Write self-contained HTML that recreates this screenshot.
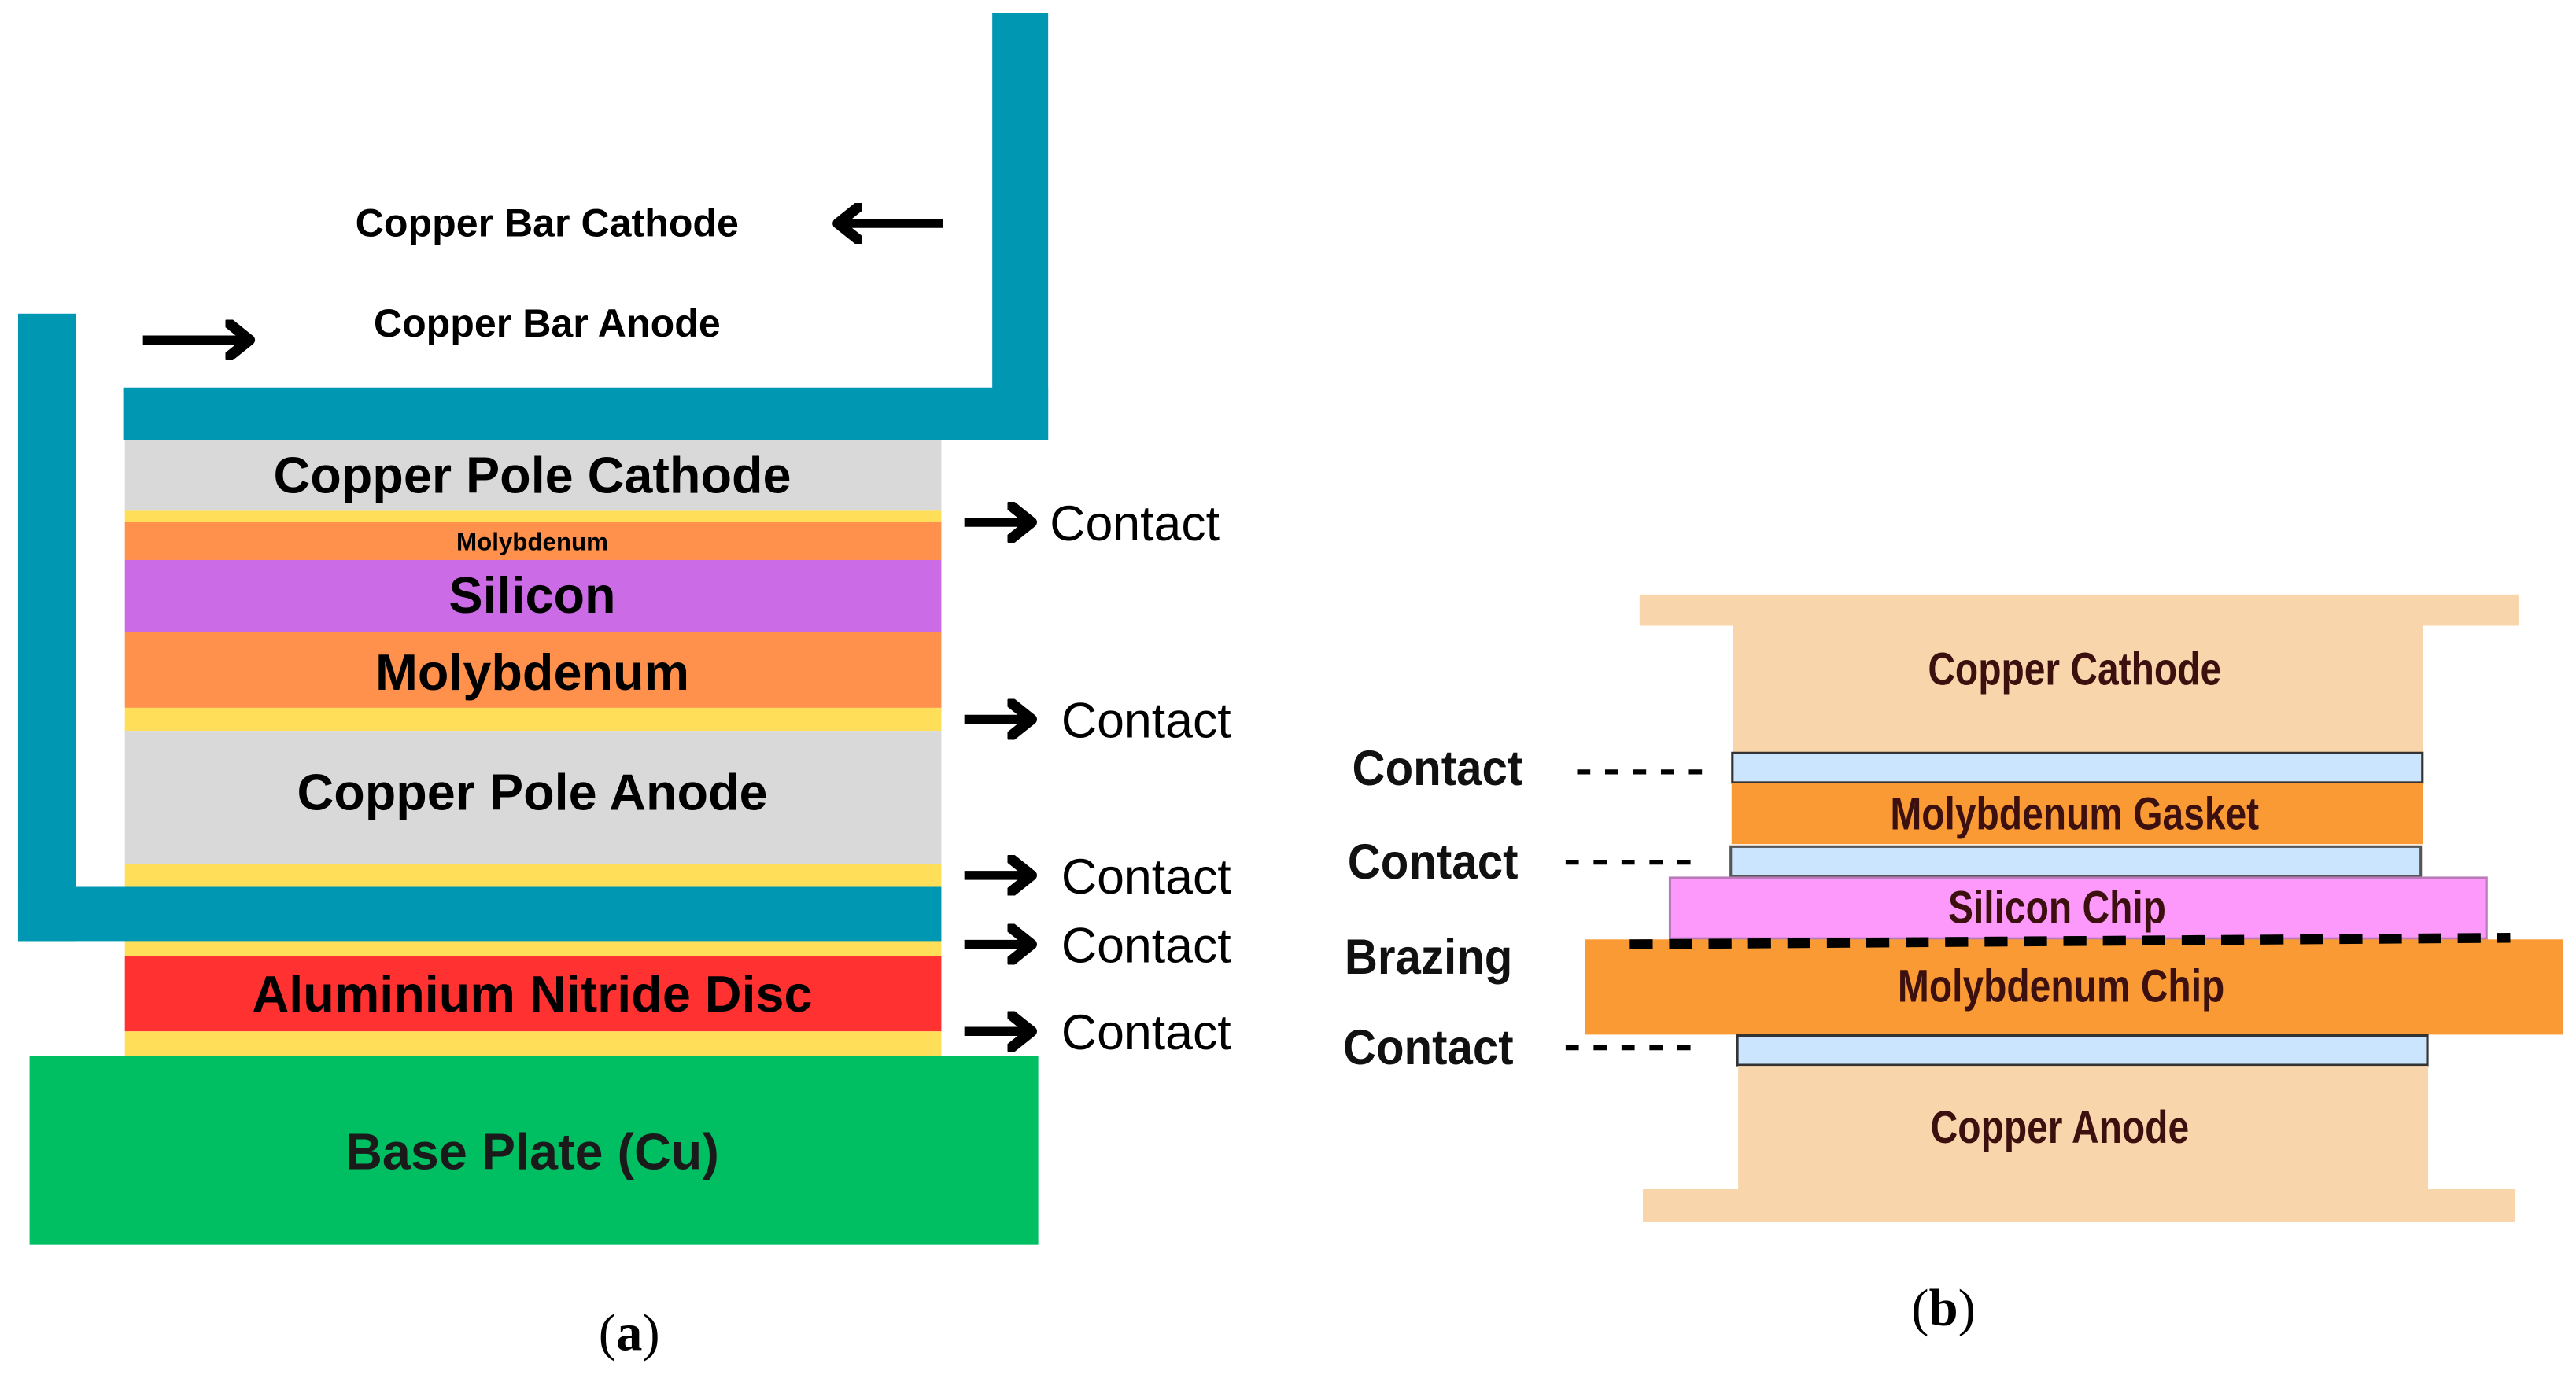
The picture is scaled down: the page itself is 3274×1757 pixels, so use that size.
<!DOCTYPE html>
<html><head><meta charset="utf-8"><style>
html,body{margin:0;padding:0;background:#fff}
svg{display:block}
.b{font-family:"Liberation Sans",sans-serif;font-weight:bold}
</style></head><body>
<svg width="3274" height="1757" viewBox="0 0 1568 841.5" preserveAspectRatio="none" xmlns="http://www.w3.org/2000/svg">
<defs>
<marker id="ar" viewBox="0 0 10 10" refX="6" refY="5" markerWidth="4.5" markerHeight="4.5" orient="auto">
<path d="M1,1 L6,5 L1,9" fill="none" stroke="#000" stroke-width="2.6" stroke-linecap="round" stroke-linejoin="round"/>
</marker>
</defs>
<rect x="76" y="268" width="497" height="43" fill="#d9d9d9"/>
<rect x="76" y="311" width="497" height="7" fill="#ffde59"/>
<rect x="76" y="318" width="497" height="23" fill="#ff914d"/>
<rect x="76" y="341" width="497" height="44" fill="#cb6ce6"/>
<rect x="76" y="385" width="497" height="46" fill="#ff914d"/>
<rect x="76" y="431" width="497" height="14" fill="#ffde59"/>
<rect x="76" y="445" width="497" height="81" fill="#d9d9d9"/>
<rect x="76" y="526" width="497" height="14" fill="#ffde59"/>
<rect x="76" y="568" width="497" height="14" fill="#ffde59"/>
<rect x="76" y="582" width="497" height="46" fill="#ff3131"/>
<rect x="76" y="628" width="497" height="15" fill="#ffde59"/>
<rect x="18" y="643" width="614" height="115" fill="#00bf63"/>
<rect x="604" y="8" width="34" height="260" fill="#0097b2"/>
<rect x="75" y="236" width="563" height="32" fill="#0097b2"/>
<rect x="11" y="191" width="35" height="382" fill="#0097b2"/>
<rect x="11" y="540" width="562" height="33" fill="#0097b2"/>
<g class="b" text-anchor="middle" fill="#000">
<text x="333" y="144" font-size="24">Copper Bar Cathode</text>
<text x="333" y="205" font-size="24">Copper Bar Anode</text>
<text x="324" y="300" font-size="31">Copper Pole Cathode</text>
<text x="324" y="335" font-size="15">Molybdenum</text>
<text x="324" y="373" font-size="31">Silicon</text>
<text x="324" y="420" font-size="31">Molybdenum</text>
<text x="324" y="493" font-size="31">Copper Pole Anode</text>
<text x="324" y="616" font-size="31">Aluminium Nitride Disc</text>
<text x="324" y="712" font-size="31" fill="#1a1a1a">Base Plate (Cu)</text>
</g>
<g stroke="#000" stroke-width="5.5" fill="none" marker-end="url(#ar)">
<line x1="574" y1="136" x2="510" y2="136"/>
<line x1="87" y1="207" x2="152" y2="207"/>
<line x1="587" y1="318" x2="628" y2="318"/>
<line x1="587" y1="438" x2="628" y2="438"/>
<line x1="587" y1="533" x2="628" y2="533"/>
<line x1="587" y1="575" x2="628" y2="575"/>
<line x1="587" y1="628" x2="628" y2="628"/>
</g>
<g font-family="Liberation Sans,sans-serif" font-size="30" fill="#000">
<text x="639" y="329">Contact</text>
<text x="646" y="449">Contact</text>
<text x="646" y="544">Contact</text>
<text x="646" y="586">Contact</text>
<text x="646" y="639">Contact</text>
</g>
<text x="383" y="822" text-anchor="middle" font-family="Liberation Serif,serif" font-size="32">(<tspan font-weight="bold">a</tspan>)</text>
<rect x="998" y="362" width="535" height="19" fill="#f8d5ab"/>
<rect x="1055" y="381" width="420" height="77" fill="#f8d5ab"/>
<rect x="1054.5" y="458.5" width="420" height="18" fill="#cce5ff" stroke="#333" stroke-width="1.5"/>
<rect x="1054" y="477" width="421" height="37" fill="#fa9a34"/>
<rect x="1053.5" y="515.5" width="420" height="18" fill="#cce5ff" stroke="#555" stroke-width="1.5"/>
<rect x="1016.5" y="534.5" width="497" height="37" fill="#fc99fa" stroke="#b87ab8" stroke-width="1.5"/>
<rect x="965" y="572" width="595" height="58" fill="#fa9a34"/>
<rect x="1057.5" y="630.5" width="420" height="18" fill="#cce5ff" stroke="#333" stroke-width="1.5"/>
<rect x="1058" y="649" width="420" height="75" fill="#f8d5ab"/>
<rect x="1000" y="724" width="531" height="20" fill="#f8d5ab"/>
<line x1="992" y1="575" x2="1528" y2="571" stroke="#000" stroke-width="6" stroke-dasharray="14,10"/>
<g stroke="#000" stroke-width="3" stroke-dasharray="8,9">
<line x1="960" y1="470" x2="1043" y2="470"/>
<line x1="953" y1="525" x2="1032" y2="525"/>
<line x1="953" y1="638" x2="1032" y2="638"/>
</g>
<g class="b" font-size="30" fill="#111" transform="scale(0.93,1)">
<text x="885" y="478">Contact</text>
<text x="882" y="535">Contact</text>
<text x="880" y="593">Brazing</text>
<text x="879" y="648">Contact</text>
</g>
<g class="b" font-size="28" fill="#3d1010" text-anchor="middle" transform="scale(0.82,1)">
<text x="1540" y="417">Copper Cathode</text>
<text x="1540" y="505">Molybdenum Gasket</text>
<text x="1527" y="562">Silicon Chip</text>
<text x="1530" y="610">Molybdenum Chip</text>
<text x="1529" y="696">Copper Anode</text>
</g>
<text x="1183" y="807" text-anchor="middle" font-family="Liberation Serif,serif" font-size="32">(<tspan font-weight="bold">b</tspan>)</text>
</svg>
</body></html>
